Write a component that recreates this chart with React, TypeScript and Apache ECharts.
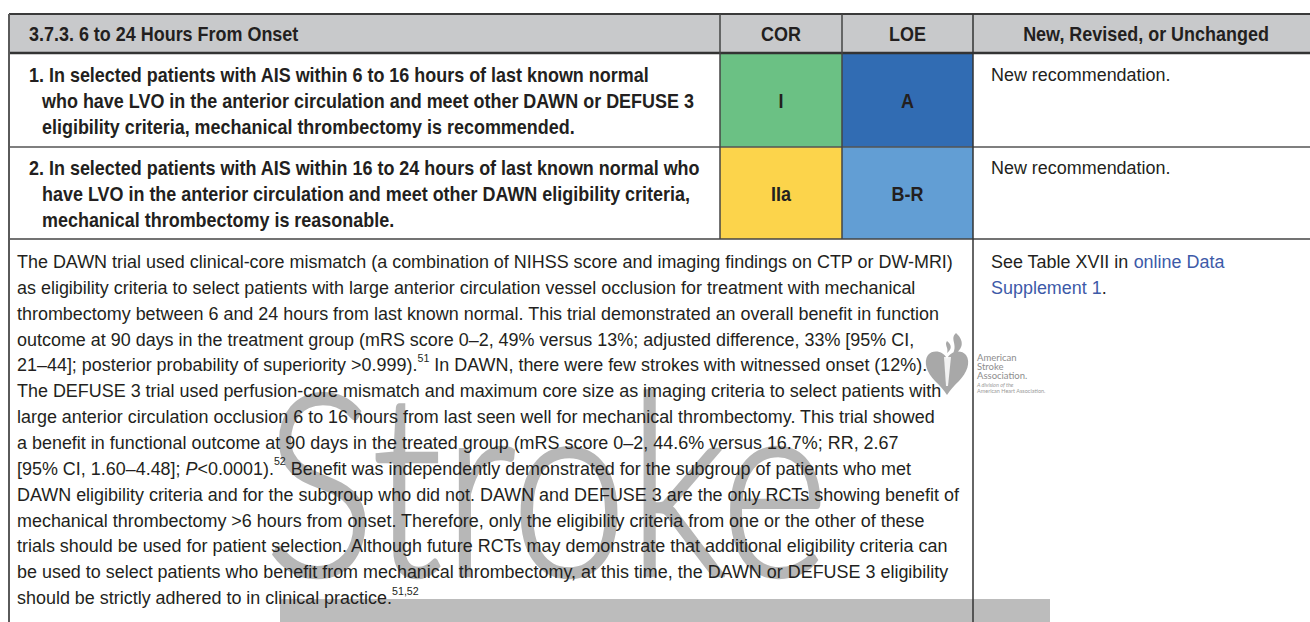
import React, { useEffect, useRef } from "react";
import * as echarts from "echarts";

// ---------- table content ----------
const headerLabels = ["3.7.3. 6 to 24 Hours From Onset", "COR", "LOE", "New, Revised, or Unchanged"];

const recommendation1Lines = [
  "1. In selected patients with AIS within 6 to 16 hours of last known normal",
  "who have LVO in the anterior circulation and meet other DAWN or DEFUSE 3",
  "eligibility criteria, mechanical thrombectomy is recommended.",
];
const recommendation2Lines = [
  "2. In selected patients with AIS within 16 to 24 hours of last known normal who",
  "have LVO in the anterior circulation and meet other DAWN eligibility criteria,",
  "mechanical thrombectomy is reasonable.",
];
const corValues = ["I", "IIa"];
const loeValues = ["A", "B-R"];
const corColors = ["#6bc184", "#fcd44b"];
const loeColors = ["#316cb3", "#629ed4"];
const statusTexts = ["New recommendation.", "New recommendation."];

const supportingLines = [
  "The DAWN trial used clinical-core mismatch (a combination of NIHSS score and imaging findings on CTP or DW-MRI)",
  "as eligibility criteria to select patients with large anterior circulation vessel occlusion for treatment with mechanical",
  "thrombectomy between 6 and 24 hours from last known normal. This trial demonstrated an overall benefit in function",
  "outcome at 90 days in the treatment group (mRS score 0–2, 49% versus 13%; adjusted difference, 33% [95% CI,",
  "21–44]; posterior probability of superiority >0.999).{sup|51} In DAWN, there were few strokes with witnessed onset (12%).",
  "The DEFUSE 3 trial used perfusion-core mismatch and maximum core size as imaging criteria to select patients with",
  "large anterior circulation occlusion 6 to 16 hours from last seen well for mechanical thrombectomy. This trial showed",
  "a benefit in functional outcome at 90 days in the treated group (mRS score 0–2, 44.6% versus 16.7%; RR, 2.67",
  "[95% CI, 1.60–4.48]; {i|P}<0.0001).{sup|52} Benefit was independently demonstrated for the subgroup of patients who met",
  "DAWN eligibility criteria and for the subgroup who did not. DAWN and DEFUSE 3 are the only RCTs showing benefit of",
  "mechanical thrombectomy >6 hours from onset. Therefore, only the eligibility criteria from one or the other of these",
  "trials should be used for patient selection. Although future RCTs may demonstrate that additional eligibility criteria can",
  "be used to select patients who benefit from mechanical thrombectomy, at this time, the DAWN or DEFUSE 3 eligibility",
  "should be strictly adhered to in clinical practice.{sup|51,52}",
];
const supplementLines = ["See Table XVII in {link|online Data}", "{link|Supplement 1}."];
const watermarkText = "Stroke";
const logoLines = ["American", "Stroke", "Association."];
const logoSmallLines = ["A division of the", "American Heart Association."];

// ---------- logo shape ----------
const HEART_D =
  "M22 26 C19 18 8 16 3 22 C -2 29 2 40 10 48 C15 53 19 57 22 62 C25 57 29 53 34 48 C42 40 46 29 41 22 C36 16 25 18 22 26 Z " +
  "M31 0 C24 6 34 12 27 22 C37 18 41 9 31 0 Z M22 8 C19 12 24 15 22 20 C27 16 27 12 22 8 Z";
echarts.graphic.registerShape("ashaHeart", echarts.graphic.extendPath(HEART_D, {}));

// ---------- layout ----------
const W = 1310;
const H = 622;
const FAMILY = "'Liberation Sans Narrow', 'Liberation Sans', Arial, sans-serif";
const LOGO_FAMILY = "Lato, 'Open Sans', sans-serif";
const REG = 18.5;
const BOLD = 19.5;
const INK = "#231f20";
const colX = [9, 720, 842, 973, W];
const rowY = [14, 53, 147, 239, H];

function measure(text: string, weight: string, size: number, family: string): number {
  const ctx = document.createElement("canvas").getContext("2d")!;
  ctx.font = `${weight} ${size}px ${family}`;
  return ctx.measureText(text).width;
}

function buildOption() {
  const regScale = (953 - 17) / measure(supportingLines[0], "normal", REG, FAMILY);
  const boldScale = (650 - 29) / measure(recommendation1Lines[0], "bold", BOLD, FAMILY);
  const wmSize = 255;
  const wmScale = 565 / measure(watermarkText, "300", wmSize, LOGO_FAMILY);

  const els: any[] = [];
  const line = (x1: number, y1: number, x2: number, y2: number, w: number, c: string) =>
    els.push({ type: "line", shape: { x1, y1, x2, y2 }, style: { stroke: c, lineWidth: w }, z: 20 });
  const boldText = (text: string, x: number, y: number, align = "left") =>
    els.push({
      type: "text", x, y, scaleX: boldScale, z: 10,
      style: { text, fill: INK, fontSize: BOLD, fontWeight: "bold", fontFamily: FAMILY, align, verticalAlign: "middle" },
    });
  const rich = {
    sup: { fontSize: 11, fontFamily: FAMILY, fill: INK, verticalAlign: "top", lineHeight: 17 },
    i: { fontSize: REG, fontFamily: FAMILY, fill: INK, fontStyle: "italic", lineHeight: 26 },
    link: { fontSize: REG, fontFamily: FAMILY, fill: "#3d5aa8", lineHeight: 26 },
  };
  const regText = (text: string, x: number, y: number) =>
    els.push({
      type: "text", x, y, scaleX: regScale, z: 10,
      style: { text, fill: INK, fontSize: REG, fontFamily: FAMILY, lineHeight: 26, align: "left", verticalAlign: "middle", rich },
    });

  // header background
  els.push({ type: "rect", shape: { x: colX[0], y: rowY[0], width: W - colX[0], height: rowY[1] - rowY[0] }, style: { fill: "#c8c9cb" }, z: 1 });
  // COR / LOE cells
  for (let r = 0; r < 2; r++) {
    els.push({ type: "rect", shape: { x: colX[1], y: rowY[r + 1], width: colX[2] - colX[1], height: rowY[r + 2] - rowY[r + 1] }, style: { fill: corColors[r] }, z: 1 });
    els.push({ type: "rect", shape: { x: colX[2], y: rowY[r + 1], width: colX[3] - colX[2], height: rowY[r + 2] - rowY[r + 1] }, style: { fill: loeColors[r] }, z: 1 });
  }

  // watermark + bar
  els.push({
    type: "text", x: 264, y: 478, scaleX: wmScale, z: 2,
    style: {
      text: watermarkText, fill: "#b7b7b7", stroke: "#b7b7b7", lineWidth: 2.5,
      fontSize: wmSize, fontWeight: 300, fontFamily: LOGO_FAMILY, lineHeight: 180,
      align: "left", verticalAlign: "middle",
    },
  });
  els.push({ type: "rect", shape: { x: 280, y: 599, width: 770, height: 23 }, style: { fill: "#bcbcbc" }, z: 3 });

  // header texts
  const hy = (rowY[0] + rowY[1]) / 2 + 1;
  boldText(headerLabels[0], 29, hy);
  boldText(headerLabels[1], (colX[1] + colX[2]) / 2, hy, "center");
  boldText(headerLabels[2], (colX[2] + colX[3]) / 2, hy, "center");
  boldText(headerLabels[3], 1146, hy, "center");

  // recommendation rows
  const recs = [recommendation1Lines, recommendation2Lines];
  const recTop = [75, 168];
  recs.forEach((lines, r) => {
    lines.forEach((t, k) => boldText(t, k === 0 ? 29 : 42, recTop[r] + k * 26.3));
    const cy = recTop[r] + 26.3;
    boldText(corValues[r], (colX[1] + colX[2]) / 2, cy, "center");
    boldText(loeValues[r], (colX[2] + colX[3]) / 2, cy, "center");
    regText(statusTexts[r], 991, recTop[r]);
  });

  // supporting text
  supportingLines.forEach((t, k) => regText(t, 17, 262 + k * 25.85));
  supplementLines.forEach((t, k) => regText(t, 991, 262 + k * 26.3));

  // logo
  els.push({ type: "ashaHeart", x: 925, y: 333, style: { fill: "#a8a8a8" }, z: 12 });
  els.push({ type: "polygon", shape: { points: [[944, 357], [951, 357], [948, 386], [946, 386]] }, style: { fill: "#ffffff", opacity: 0.85 }, z: 13 });
  logoLines.forEach((t, k) =>
    els.push({ type: "text", x: 977, y: 357 + k * 9.3, z: 12, style: { text: t, fill: "#8d8d8d", fontSize: 9.5, lineHeight: 9, fontFamily: LOGO_FAMILY, verticalAlign: "middle" } })
  );
  logoSmallLines.forEach((t, k) =>
    els.push({ type: "text", x: 977, y: 384.5 + k * 6.5, z: 12, style: { text: t, fill: "#9a9a9a", fontSize: 5.5, lineHeight: 6, fontStyle: k === 0 ? "italic" : "normal", fontFamily: LOGO_FAMILY, verticalAlign: "middle" } })
  );

  // grid lines
  line(colX[0], rowY[0], W, rowY[0], 2, "#3a3a3a");
  line(colX[0], rowY[1], W, rowY[1], 2.5, "#333333");
  line(colX[0], rowY[2], W, rowY[2], 1.5, "#555555");
  line(colX[0], rowY[3], W, rowY[3], 1.5, "#444444");
  line(colX[0], rowY[0], colX[0], H, 2, "#5a5a5a");
  line(colX[1], rowY[0], colX[1], rowY[3], 1.5, "#444444");
  line(colX[2], rowY[0], colX[2], rowY[3], 1.5, "#444444");
  line(colX[3], rowY[0], colX[3], H, 1.5, "#333333");

  return { animation: false, graphic: { elements: els } };
}

export default function App() {
  const ref = useRef<HTMLDivElement>(null);
  useEffect(() => {
    const chart = echarts.init(ref.current!, null, { renderer: "svg" });
    chart.setOption(buildOption() as any);
    return () => chart.dispose();
  }, []);
  return (
    <div
      ref={ref}
      style={{ position: "fixed", left: 0, top: 0, width: W, height: H, background: "#ffffff" }}
    />
  );
}
